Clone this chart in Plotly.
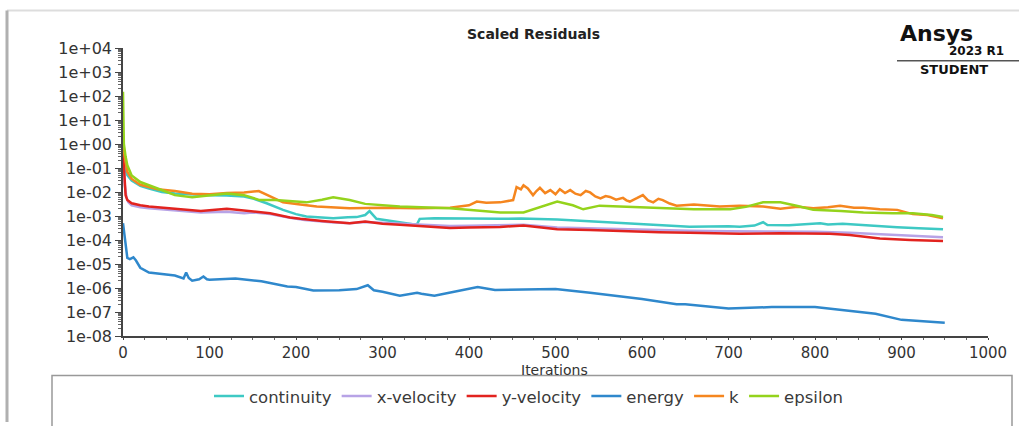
import plotly.graph_objects as go

# ---------------- data ----------------
cont_it = [0,1,3,5,10,20,30,45,60,80,100,120,140,150,166,185,200,212,230,243,260,270,280,285,293,310,320,335,340,343,360,378,400,436,460,502,540,578,620,655,700,713,730,740,745,770,806,815,832,850,895,920,948]
cont_v = [1.0,0.3,0.08,0.05,0.03,0.018,0.014,0.01,0.0087,0.0078,0.0074,0.0072,0.0065,0.0054,0.0034,0.0018,0.0012,0.00095,0.00085,0.0008,0.00088,0.0009,0.0011,0.0016,0.00076,0.0006,0.00055,0.00045,0.00046,0.00076,0.0008,0.00081,0.00079,0.00076,0.00078,0.00072,0.0006,0.0005,0.00042,0.00036,0.00037,0.00036,0.0004,0.00055,0.00042,0.00041,0.0005,0.00044,0.00047,0.00042,0.00034,0.00031,0.00028]

xvel_it = [0,2,4,6,10,20,30,60,90,120,140,150,170,193,210,240,262,280,300,320,350,378,400,436,463,502,540,578,620,655,700,740,800,840,875,910,948]
xvel_v = [0.4,0.02,0.006,0.0038,0.0028,0.0023,0.0021,0.0017,0.0014,0.0015,0.0013,0.0014,0.0012,0.00085,0.00068,0.00055,0.0005,0.00056,0.00052,0.00047,0.00042,0.00038,0.00039,0.0004,0.00043,0.00033,0.0003,0.00028,0.00026,0.00024,0.00023,0.00023,0.00022,0.0002,0.00017,0.00015,0.00013]

yvel_it = [0,1,3,5,10,20,30,60,90,120,150,170,193,205,230,262,280,300,320,350,378,400,436,463,480,502,540,578,620,655,713,760,817,840,860,875,910,948]
yvel_v = [0.5,0.1,0.0074,0.0046,0.0034,0.0028,0.0025,0.002,0.0016,0.002,0.0016,0.0013,0.00087,0.00076,0.00062,0.0005,0.00059,0.00048,0.00043,0.00037,0.00032,0.00033,0.00035,0.0004,0.00035,0.00028,0.00026,0.00023,0.00021,0.0002,0.00018,0.00019,0.00018,0.00016,0.00013,0.000115,0.0001,0.00009]

energy_it = [0,2,5,8,12,15,20,30,45,60,70,73,76,80,88,93,97,100,130,160,190,200,220,250,270,283,290,300,320,340,345,360,390,410,430,460,500,540,600,640,650,700,750,800,850,870,900,930,950]
energy_v = [5e-4,1.2e-4,1.8e-5,1.6e-5,1.9e-5,1.4e-5,7e-6,4.4e-6,3.8e-6,3.3e-6,2.5e-6,4.4e-6,2.6e-6,2e-6,2.3e-6,3e-6,2.3e-6,2.2e-6,2.5e-6,1.9e-6,1.15e-6,1.1e-6,7.8e-7,8e-7,9e-7,1.3e-6,8e-7,7e-7,4.8e-7,6.3e-7,5.8e-7,4.8e-7,7.8e-7,1.1e-6,8.2e-7,8.5e-7,9e-7,6.3e-7,3.5e-7,2.1e-7,2.1e-7,1.4e-7,1.6e-7,1.6e-7,1.05e-7,8.5e-8,4.7e-8,4e-8,3.6e-8]

k_it = [0,2,5,10,20,40,60,80,100,120,140,157,170,185,205,224,262,301,340,378,400,409,420,436,451,455,460,463,468,474,478,482,488,494,500,505,511,517,523,529,535,540,546,552,558,563,570,578,582,586,594,601,607,613,619,624,632,640,660,674,690,713,740,760,780,798,815,829,845,856,875,895,913,930,948]
k_v = [0.8,0.3,0.07,0.035,0.02,0.013,0.011,0.0085,0.008,0.009,0.0095,0.011,0.0065,0.0037,0.003,0.0025,0.0021,0.0022,0.0021,0.0022,0.0028,0.0040,0.0036,0.0037,0.0046,0.016,0.013,0.019,0.014,0.0074,0.011,0.015,0.009,0.012,0.008,0.013,0.009,0.012,0.0085,0.0074,0.011,0.0096,0.0065,0.0054,0.0068,0.0062,0.0048,0.0057,0.0045,0.004,0.0055,0.0074,0.0045,0.0037,0.0052,0.0046,0.0033,0.0027,0.003,0.0027,0.0025,0.0027,0.0025,0.002,0.0024,0.0021,0.0023,0.0027,0.0022,0.0022,0.0019,0.0018,0.0012,0.0011,0.0008]

eps_it = [0,1,3,5,10,20,40,60,80,100,120,140,147,158,176,212,230,243,262,280,320,378,416,436,463,480,502,520,532,551,580,617,660,702,720,740,760,780,798,830,856,890,913,935,948]
eps_v = [150,1.0,0.3,0.13,0.049,0.026,0.014,0.0074,0.006,0.0074,0.0087,0.0074,0.006,0.0046,0.0046,0.0037,0.0048,0.006,0.0046,0.0032,0.0025,0.0021,0.0016,0.0014,0.0014,0.0022,0.004,0.0028,0.0019,0.0027,0.0025,0.0022,0.0019,0.0019,0.0024,0.0037,0.0037,0.0026,0.0018,0.0016,0.0014,0.0013,0.0013,0.0011,0.0009]

ytick_vals = [1e4,1e3,1e2,1e1,1e0,1e-1,1e-2,1e-3,1e-4,1e-5,1e-6,1e-7,1e-8]
ytick_text = ["1e+04","1e+03","1e+02","1e+01","1e+00","1e-01","1e-02","1e-03","1e-04","1e-05","1e-06","1e-07","1e-08"]
xtick_vals = [0,100,200,300,400,500,600,700,800,900,1000]

series = [
    ("continuity", cont_it, cont_v, "#3ec9c4"),
    ("x-velocity", xvel_it, xvel_v, "#b7a3e6"),
    ("y-velocity", yvel_it, yvel_v, "#e2231f"),
    ("energy", energy_it, energy_v, "#2f88cc"),
    ("k", k_it, k_v, "#f5861f"),
    ("epsilon", eps_it, eps_v, "#94d31c"),
]

FONT = "DejaVu Sans"
fig = go.Figure()
for name, xs, ys, col in series:
    fig.add_trace(go.Scatter(x=xs, y=ys, mode="lines", name=name,
                             line=dict(color=col, width=2.5)))

# pixel -> paper helpers
L, R, T, B = 123, 988, 48, 339
def px(x):
    return (x - L) / (R - L)
def py(y):
    return (B - y) / (B - T)

fig.update_layout(
    width=1019, height=426,
    margin=dict(l=L, r=1019 - R, t=T, b=426 - B),
    paper_bgcolor="white", plot_bgcolor="white",
    font=dict(family=FONT, size=15, color="#333333"),
    showlegend=True,
    legend=dict(orientation="h", x=px(529), xanchor="center", y=py(400), yanchor="middle",
                font=dict(family=FONT, size=16.5, color="#3a3a3a"),
                itemwidth=30, tracegroupgap=0, bgcolor="rgba(0,0,0,0)"),
    xaxis=dict(range=[0, 1000], tickvals=xtick_vals,
               showgrid=False, zeroline=False, showline=True, linecolor="#444", linewidth=1.5,
               ticks="outside", ticklen=2, tickcolor="#444",
               minor=dict(ticks="outside", ticklen=2, dtick=25, tickcolor="#666", showgrid=False),
               tickfont=dict(family=FONT, size=15, color="#333")),
    yaxis=dict(type="log", range=[-8, 4], tickvals=ytick_vals, ticktext=ytick_text,
               showgrid=False, zeroline=False, showline=True, linecolor="#444", linewidth=1.5,
               ticks="outside", ticklen=6, tickcolor="#444",
               minor=dict(ticks="outside", ticklen=3, dtick="D1", tickcolor="#666", showgrid=False),
               tickfont=dict(family=FONT, size=16, color="#333")),
)

shapes = [
    dict(type="line", xref="paper", yref="paper", x0=px(7), x1=px(1019), y0=py(10), y1=py(10),
         line=dict(color="#dddddd", width=2)),
    dict(type="line", xref="paper", yref="paper", x0=px(7), x1=px(7), y0=py(10), y1=py(426),
         line=dict(color="#b0b0b0", width=3)),
    dict(type="rect", xref="paper", yref="paper", x0=px(52), x1=px(1012), y0=py(379), y1=py(440),
         line=dict(color="#999999", width=1.5)),
    dict(type="line", xref="paper", yref="paper", x0=px(897), x1=px(1019), y0=py(61), y1=py(61),
         line=dict(color="#555555", width=1.5)),
]
fig.update_layout(shapes=shapes)

ann = [
    dict(text="<b>Scaled Residuals</b>", x=px(533), y=py(34), xref="paper", yref="paper",
         showarrow=False, xanchor="center", yanchor="middle",
         font=dict(family=FONT, size=14, color="#222")),
    dict(text="Iterations", x=px(554), y=py(373), xref="paper", yref="paper",
         showarrow=False, xanchor="center", yanchor="middle",
         font=dict(family=FONT, size=14, color="#333")),
    dict(text="<b>Ansys</b>", x=px(898), y=py(33), xref="paper", yref="paper",
         showarrow=False, xanchor="left", yanchor="middle",
         font=dict(family=FONT, size=22, color="#111")),
    dict(text="<b>2023 R1</b>", x=px(947), y=py(51), xref="paper", yref="paper",
         showarrow=False, xanchor="left", yanchor="middle",
         font=dict(family=FONT, size=12, color="#111")),
    dict(text="<b>STUDENT</b>", x=px(954), y=py(70), xref="paper", yref="paper",
         showarrow=False, xanchor="center", yanchor="middle",
         font=dict(family=FONT, size=13, color="#111")),
]
fig.update_layout(annotations=ann)

fig.write_html("out.html", config={"displayModeBar": False},
               post_script="document.body.style.margin='0';")
